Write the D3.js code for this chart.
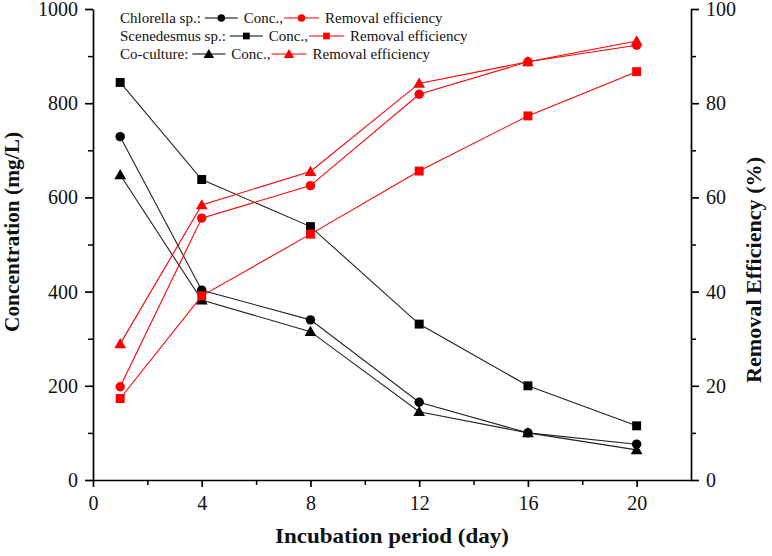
<!DOCTYPE html>
<html>
<head>
<meta charset="utf-8">
<script src="https://cdn.jsdelivr.net/npm/d3@7"></script>
<style>
  html, body { margin: 0; padding: 0; background: #fff; }
  svg { display: block; }
  text { font-family: "Liberation Serif", "Times New Roman", serif; }
</style>
</head>
<body>
<div id="chart"></div>
<script>
/* Concentration and removal efficiency vs incubation period */

const days = [1, 4, 8, 12, 16, 20];

// concentration (mg/L), left axis
const chlorellaConc = [729, 403, 340, 165, 100, 76];
const scenedesmusConc = [844, 638, 538, 331, 200, 115];
const cocultureConc = [648, 382, 315, 145, 100, 64];

// removal efficiency (%), right axis
const chlorellaRE = [19.8, 55.6, 62.5, 81.9, 88.8, 92.3];
const scenedesmusRE = [17.3, 39.1, 52.2, 65.6, 77.3, 86.7];
const cocultureRE = [28.9, 58.4, 65.5, 84.2, 88.8, 93.2];

const xTicks = [0, 4, 8, 12, 16, 20];
const xMinorTicks = [2, 6, 10, 14, 18];
const concTicks = [0, 200, 400, 600, 800, 1000];
const concMinorTicks = [100, 300, 500, 700, 900];
const reTicks = [0, 20, 40, 60, 80, 100];
const reMinorTicks = [10, 30, 50, 70, 90];

const legendRows = [
    { label: 'Chlorella sp.:', symbol: 'circle' },
    { label: 'Scenedesmus sp.:', symbol: 'square' },
    { label: 'Co-culture:', symbol: 'triangle' }
];

const series = [
    { values: chlorellaConc, axis: 'conc', symbol: 'circle', color: '#000' },
    { values: scenedesmusConc, axis: 'conc', symbol: 'square', color: '#000' },
    { values: cocultureConc, axis: 'conc', symbol: 'triangle', color: '#000' },
    { values: chlorellaRE, axis: 're', symbol: 'circle', color: '#ff0000' },
    { values: scenedesmusRE, axis: 're', symbol: 'square', color: '#ff0000' },
    { values: cocultureRE, axis: 're', symbol: 'triangle', color: '#ff0000' }
];

const width = 772;
const height = 556;
const margin = { top: 9, right: 81, bottom: 76, left: 93 };
const innerWidth = width - margin.left - margin.right;
const innerHeight = height - margin.top - margin.bottom;

const serif = '"Liberation Serif", "Times New Roman", serif';

const svg = d3.select('#chart').append('svg')
    .attr('width', width)
    .attr('height', height);

const g = svg.append('g')
    .attr('transform', `translate(${margin.left},${margin.top})`);

// Scales
const x = d3.scaleLinear().domain([0, 22]).range([0, innerWidth]);
const yConc = d3.scaleLinear().domain([0, 1000]).range([innerHeight, 0]);
const yRE = d3.scaleLinear().domain([0, 100]).range([innerHeight, 0]);

function styleAxis(sel) {
    sel.attr('font-family', serif).attr('font-size', 20);
    sel.select('.domain').attr('stroke', '#000').attr('stroke-width', 1.7);
    sel.selectAll('.tick line').attr('stroke', '#000').attr('stroke-width', 1.7);
    sel.selectAll('.tick text').attr('fill', '#111');
}

function minorTicks(sel) {
    sel.select('.domain').remove();
    sel.selectAll('.tick text').remove();
    sel.selectAll('line').attr('stroke', '#000').attr('stroke-width', 1.5);
}

// Minor ticks (no labels)
g.append('g')
    .attr('transform', `translate(0,${innerHeight})`)
    .call(d3.axisBottom(x).tickValues(xMinorTicks).tickSize(5))
    .call(minorTicks);

g.append('g')
    .call(d3.axisLeft(yConc).tickValues(concMinorTicks).tickSize(5))
    .call(minorTicks);

g.append('g')
    .attr('transform', `translate(${innerWidth},0)`)
    .call(d3.axisRight(yRE).tickValues(reMinorTicks).tickSize(5))
    .call(minorTicks);

// Major axes
g.append('g')
    .attr('transform', `translate(0,${innerHeight})`)
    .call(d3.axisBottom(x).tickValues(xTicks).tickFormat(d3.format('d'))
        .tickSize(7).tickSizeOuter(0).tickPadding(9))
    .call(styleAxis);

g.append('g')
    .call(d3.axisLeft(yConc).tickValues(concTicks).tickFormat(d3.format('d'))
        .tickSize(8).tickSizeOuter(0).tickPadding(7))
    .call(styleAxis);

g.append('g')
    .attr('transform', `translate(${innerWidth},0)`)
    .call(d3.axisRight(yRE).tickValues(reTicks).tickFormat(d3.format('d'))
        .tickSize(8).tickSizeOuter(0).tickPadding(7))
    .call(styleAxis);

// Axis titles
function axisTitle(txt, transform, len) {
    svg.append('text')
        .attr('transform', transform)
        .attr('text-anchor', 'middle')
        .attr('textLength', len)
        .attr('lengthAdjust', 'spacingAndGlyphs')
        .attr('font-family', serif)
        .attr('font-weight', 'bold')
        .attr('font-size', 21)
        .attr('fill', '#111')
        .text(txt);
}

axisTitle('Incubation period (day)', `translate(${margin.left + innerWidth / 2},543)`, 234);
axisTitle('Concentration (mg/L)', 'translate(19,232) rotate(-90)', 200);
axisTitle('Removal Efficiency (%)', 'translate(761,270) rotate(-90)', 226);

// Symbols
function symbolPath(type, size) {
    const t = type === 'circle' ? d3.symbolCircle
        : type === 'square' ? d3.symbolSquare
        : d3.symbolTriangle;
    return d3.symbol().type(t).size(size)();
}

const symbolSize = { circle: 70, square: 80, triangle: 60 };

// Lines and markers
series.forEach(s => {
    const yScale = s.axis === 'conc' ? yConc : yRE;
    const line = d3.line()
        .x((d, i) => x(days[i]))
        .y(d => yScale(d));

    g.append('path')
        .datum(s.values)
        .attr('d', line)
        .attr('fill', 'none')
        .attr('stroke', s.color === '#000' ? '#222' : s.color)
        .attr('stroke-width', 1.1);

    g.selectAll(null)
        .data(s.values)
        .join('path')
        .attr('transform', (d, i) => `translate(${x(days[i])},${yScale(d) + (s.symbol === 'triangle' ? 1 : 0)})`)
        .attr('d', symbolPath(s.symbol, symbolSize[s.symbol]))
        .attr('fill', s.color);
});

// Legend
const legend = svg.append('g').attr('transform', 'translate(120,0)')
    .attr('font-family', serif).attr('font-size', 15);

legendRows.forEach((row, i) => {
    const yb = 23 + i * 18;
    const yc = yb - 5;
    let cx = 0;

    const label = legend.append('text')
        .attr('x', cx).attr('y', yb)
        .attr('fill', '#111')
        .text(row.label);
    cx += label.node().getComputedTextLength() + 4;

    const segs = [
        { color: '#000', text: 'Conc.,', len: 33, gapAfter: 1 },
        { color: '#ff0000', text: 'Removal efficiency', len: 35, gapAfter: 0 }
    ];
    segs.forEach(sg => {
        legend.append('line')
            .attr('x1', cx).attr('x2', cx + sg.len)
            .attr('y1', yc).attr('y2', yc)
            .attr('stroke', sg.color).attr('stroke-width', 1.1);
        legend.append('path')
            .attr('transform', `translate(${cx + sg.len / 2},${yc + (row.symbol === 'triangle' ? 1 : 0)})`)
            .attr('d', symbolPath(row.symbol, row.symbol === 'triangle' ? 48 : 45))
            .attr('fill', sg.color);
        cx += sg.len + 6;
        const t = legend.append('text')
            .attr('x', cx).attr('y', yb)
            .attr('fill', '#111')
            .text(sg.text);
        cx += t.node().getComputedTextLength() + sg.gapAfter;
    });
});
</script>
</body>
</html>
